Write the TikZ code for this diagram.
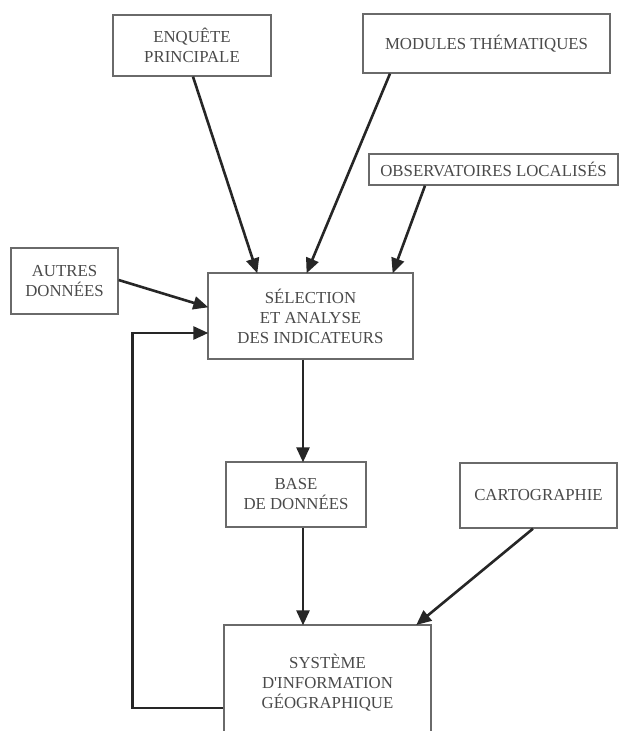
\documentclass[tikz,border=0pt]{standalone}
\usepackage{fontspec}
\setmainfont{Liberation Serif}
\usetikzlibrary{arrows.meta}
\definecolor{boxline}{HTML}{6A6A6A}
\definecolor{boxtext}{HTML}{4A4A4A}
\definecolor{arrowc}{HTML}{262626}
\tikzset{
  box/.style={draw=boxline, line width=1.3pt, align=center, text=boxtext,
    font=\fontsize{16.8}{20}\selectfont, inner sep=0pt},
  flow/.style={draw=arrowc, line width=2.6pt,
    -{Triangle[length=15pt,width=13pt]}, shorten >=-1pt}
}
\begin{document}
\begin{tikzpicture}[x=1pt,y=-1pt]
\useasboundingbox[fill=white] (0,0) rectangle (619,731);

\node[box, minimum width=158pt, minimum height=61pt] (enq) at (192,45.5) {ENQUÊTE\\PRINCIPALE};
\node[box, minimum width=247pt, minimum height=59pt] (mod) at (486.5,43.5) {MODULES THÉMATIQUES};
\node[box, minimum width=249pt, minimum height=31pt] (obs) at (493.5,169.5) {OBSERVATOIRES LOCALISÉS};
\node[box, minimum width=107pt, minimum height=66pt] (aut) at (64.5,281) {AUTRES\\DONNÉES};
\node[box, minimum width=205pt, minimum height=86pt] (sel) at (310.5,316) {SÉLECTION\\ET ANALYSE\\DES INDICATEURS};
\node[box, minimum width=140pt, minimum height=65pt] (bdd) at (296,494.5) {BASE\\DE DONNÉES};
\node[box, minimum width=157pt, minimum height=65pt] (carto) at (538.5,495.5) {CARTOGRAPHIE};
\node[box, minimum width=207pt, minimum height=115pt] (sig) at (327.5,682.5) {SYSTÈME\\D\textquotesingle INFORMATION\\GÉOGRAPHIQUE};

\draw[flow] ([xshift=1pt]enq.south) -- ([xshift=-53.5pt]sel.north);
\draw[flow] ([xshift=-96.5pt]mod.south) -- ([xshift=-3.5pt]sel.north);
\draw[flow] ([xshift=-68.5pt]obs.south) -- ([xshift=82.5pt]sel.north);
\draw[flow] ([yshift=1pt]aut.east) -- ([yshift=9pt]sel.west);
\draw[flow] ([xshift=-7.5pt]sel.south) -- ([xshift=7pt]bdd.north);
\draw[flow] ([xshift=7pt]bdd.south) -- ([xshift=-24.5pt]sig.north);
\draw[flow] ([xshift=-5.5pt]carto.south) -- ([xshift=89.5pt]sig.north);
\draw[flow] ([yshift=-25.5pt]sig.west) -- ++(-91,0) |- ([yshift=-17pt]sel.west);
\end{tikzpicture}
\end{document}
